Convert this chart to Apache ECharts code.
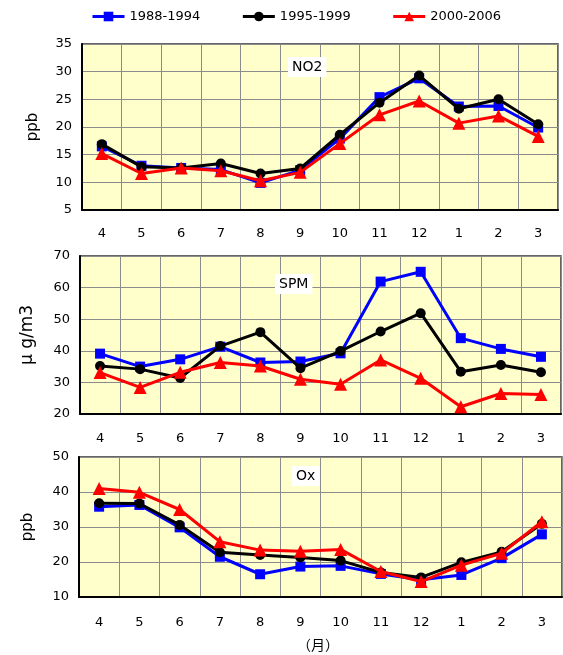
<!DOCTYPE html>
<html><head><meta charset="utf-8">
<script src="https://cdn.jsdelivr.net/npm/echarts@6/dist/echarts.min.js"></script>
<style>html,body{margin:0;padding:0;background:#fff}#c{width:563px;height:655px}</style>
</head><body><div id="c"></div>
<script>
const months = ['4','5','6','7','8','9','10','11','12','1','2','3'];
const seriesNames = ['1988-1994','1995-1999','2000-2006'];
const no2_8894 = [16.5,13.0,12.6,12.3,9.9,12.2,17.9,25.4,28.8,23.7,23.8,19.9];
const no2_9599 = [16.9,12.8,12.6,13.4,11.6,12.5,18.6,24.4,29.3,23.3,25.0,20.5];
const no2_0006 = [15.2,11.6,12.6,12.1,10.3,11.8,17.0,22.2,24.7,20.7,22.0,18.3];
const spm_8894 = [39.1,35.0,37.3,41.3,36.3,36.6,39.2,61.9,65.0,44.0,40.6,38.1];
const spm_9599 = [35.2,34.2,31.4,41.5,45.9,34.5,39.9,46.1,51.9,33.4,35.5,33.2];
const spm_0006 = [33.1,28.4,33.2,36.3,35.2,31.0,29.4,37.1,31.3,22.3,26.5,26.2];
const ox_8894 = [35.8,36.3,29.9,21.5,16.5,18.7,18.9,16.6,14.9,16.3,21.1,27.9];
const ox_9599 = [36.8,36.7,30.6,22.8,22.0,21.3,20.4,17.0,15.6,19.9,22.9,30.9];
const ox_0006 = [41.0,39.9,35.0,25.8,23.4,23.1,23.6,17.3,14.4,19.1,22.5,31.5];
const panelTitles = ['NO2','SPM','Ox'];
const yNames = ['ppb','μ g/m3','ppb'];
const yRanges = [[5,35,5],[20,70,10],[10,50,10]];

const colors = ['#0000FF','#000000','#FF0000'];
const symbols = ['rect','circle','triangle'];
const symSizes = [10,10,13];
const FONT = 'DejaVu Sans';

const grids = [
  {left:82, top:44, width:476, height:166},
  {left:80, top:256, width:481, height:158},
  {left:79, top:457, width:483, height:140}
];
const labelMargins = [17,18,19];
const nameGaps = [41,44,43];
const nameSizes = [15,17,15];
const data = [[no2_8894,no2_9599,no2_0006],[spm_8894,spm_9599,spm_0006],[ox_8894,ox_9599,ox_0006]];

const option = {
  animation:false,
  backgroundColor:'#fff',
  legend:{
    left:86, top:5, itemWidth:32, itemHeight:12, itemGap:41,
    lineStyle:{width:3},
    textStyle:{fontFamily:FONT,fontSize:13,color:'#000'},
    data:seriesNames
  },
  title: panelTitles.map((t,i)=>({
    text:t,
    left:[288,275,292][i], top:[57,274,466][i],
    backgroundColor:'#fff', padding:[3,4],
    textStyle:{fontFamily:FONT,fontSize:14,fontWeight:'normal',color:'#000'}
  })),
  grid: grids.map(g=>Object.assign({show:true, backgroundColor:'#FFFFCC', borderColor:'#333', borderWidth:1.5, containLabel:false}, g)),
  xAxis: grids.map((g,i)=>({
    type:'category', gridIndex:i, data:months, boundaryGap:true,
    axisLine:{show:true,lineStyle:{color:'#000',width:2}},
    axisTick:{show:false},
    axisLabel:{interval:0, margin:labelMargins[i], fontFamily:FONT, fontSize:13, color:'#000'},
    splitLine:{show:true, interval:0, lineStyle:{color:'#8c8c8c',width:1}}
  })),
  yAxis: grids.map((g,i)=>({
    type:'value', gridIndex:i, min:yRanges[i][0], max:yRanges[i][1], interval:yRanges[i][2],
    name:yNames[i], nameLocation:'middle', nameGap:nameGaps[i], nameRotate:90,
    nameTextStyle:{fontFamily:FONT, fontSize:nameSizes[i], color:'#000'},
    axisLine:{show:true,lineStyle:{color:'#000',width:2}},
    axisTick:{show:false},
    axisLabel:{margin:10, fontFamily:FONT, fontSize:13, color:'#000'},
    splitLine:{show:true, lineStyle:{color:'#8c8c8c',width:1}}
  })),
  series: [],
  graphic:[{type:'text', left:297, top:638, style:{text:'（月）', font:'14px "Noto Sans CJK JP"', fill:'#000'}}]
};
for (let p=0;p<3;p++){
  for (let s=0;s<3;s++){
    option.series.push({
      name:seriesNames[s], type:'line', xAxisIndex:p, yAxisIndex:p,
      data:data[p][s], symbol:symbols[s], symbolSize:symSizes[s],
      lineStyle:{color:colors[s], width:3}, itemStyle:{color:colors[s]},
      z: 2+s
    });
  }
}
const chart = echarts.init(document.getElementById('c'));
chart.setOption(option);
</script></body></html>
